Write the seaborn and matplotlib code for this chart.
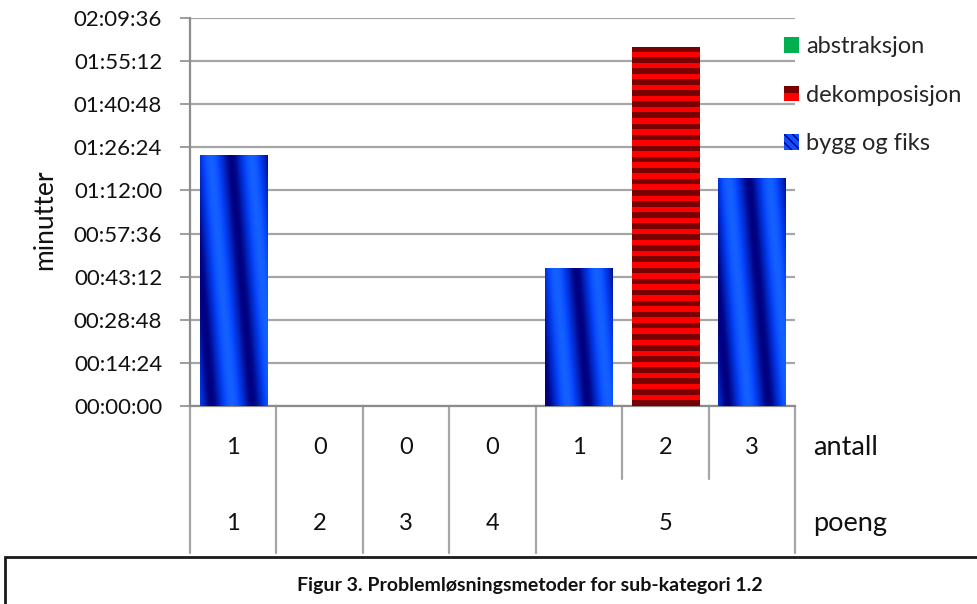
import numpy as np
import pandas as pd
import matplotlib
matplotlib.use("Agg")
import matplotlib.pyplot as plt
import matplotlib.transforms as mtransforms
import seaborn as sns
from matplotlib.patches import Patch, Rectangle
from matplotlib.legend_handler import HandlerBase
from matplotlib.colors import LinearSegmentedColormap, ListedColormap
from matplotlib.ticker import MultipleLocator, FuncFormatter

# ----------------------------
# Data
# ----------------------------
poeng = ["1", "2", "3", "4", "5", "5", "5"]
antall = ["1", "0", "0", "0", "1", "2", "3"]
metode = ["bygg og fiks", "", "", "", "bygg og fiks", "dekomposisjon", "bygg og fiks"]
tid = ["01:24:00", "00:00:00", "00:00:00", "00:00:00", "00:46:00", "02:00:00", "01:16:00"]
serier = ["abstraksjon", "dekomposisjon", "bygg og fiks"]
farger = {"abstraksjon": "#00b050", "dekomposisjon": "#ff0000", "bygg og fiks": "#0040ff"}
tittel = "Figur 3. Problemløsningsmetoder for sub-kategori 1.2"

kol = [f"k{i}" for i in range(len(poeng))]
df = pd.DataFrame({"kol": kol, "metode": metode,
                   "sek": pd.to_timedelta(tid).total_seconds()})
df_bar = df[df["sek"] > 0]

sns.set_theme(style="white")
plt.rcParams["font.family"] = ["Lato", "DejaVu Sans"]
FS = 16
FS2 = 17
GRID = "#a6a6a6"
AXC = "#8c8c8c"
TXT = "#111111"

fig = plt.figure(figsize=(9.77, 6.04), dpi=100)
ax = fig.add_axes([190 / 977, 198 / 604, 605 / 977, 388 / 604])

sns.barplot(data=df_bar, x="kol", y="sek", hue="metode", order=kol,
            hue_order=serier, palette=farger, dodge=False, width=0.78,
            saturation=1, legend=False, ax=ax, zorder=2)

ax.set_xlim(-0.5, len(kol) - 0.5)
ax.set_ylim(0, 7776)

# gradient / stripe fills clipped to each bar (bars come in df_bar order)
blue_cmap = LinearSegmentedColormap.from_list(
    "blaa", ["#000080", "#0020b8", "#0034e0", "#0848ff", "#1460ff"])
red_cmap = ListedColormap(["#ff0000", "#780000"])
bars = [p for p in ax.patches if p.get_height() > 0]
bars.sort(key=lambda p: p.get_x())
for p, navn in zip(bars, df_bar["metode"]):
    h = p.get_height()
    x0, w = p.get_x(), p.get_width()
    px0, py0 = ax.transData.transform((x0, 0))
    px1, py1 = ax.transData.transform((x0 + w, h))
    W, H = int(round(px1 - px0)), int(round(py1 - py0))
    if navn == "bygg og fiks":
        jj, ii = np.meshgrid(np.arange(W), np.arange(H))
        fase = (jj - 0.15 * W - 0.085 * ii) / (0.6 * W)
        img = 0.5 + 0.5 * np.cos(2 * np.pi * fase)
        cmap, interp = blue_cmap, "bilinear"
    else:
        n = max(int(round(H / 5.5)), 1)
        img = ((np.arange(n) % 2) == 0).astype(float)[:, None] * np.ones((1, 4))
        cmap, interp = red_cmap, "nearest"
    im = ax.imshow(img, extent=(x0, x0 + w, 0, h), aspect="auto", origin="upper",
                   cmap=cmap, vmin=0, vmax=1, interpolation=interp, zorder=3)
    im.set_clip_path(p)
    p.set_facecolor("none")
    p.set_linewidth(0)

ax.set_xlim(-0.5, len(kol) - 0.5)
ax.set_ylim(0, 7776)

# y axis as hh:mm:ss
def hms(v, pos):
    v = int(round(v))
    return f"{v // 3600:02d}:{(v % 3600) // 60:02d}:{v % 60:02d}"

ax.yaxis.set_major_locator(MultipleLocator(864))
ax.yaxis.set_major_formatter(FuncFormatter(hms))
ax.tick_params(axis="y", labelsize=FS, length=7, width=1.2, color=AXC,
               pad=13, labelcolor=TXT, left=True)
ax.tick_params(axis="x", bottom=False, labelbottom=False)
ax.set_xlabel("")
ax.set_ylabel("minutter", fontsize=19, color=TXT)
ax.yaxis.set_label_coords(-0.22, 0.48)
ax.grid(axis="y", color=GRID, lw=1.6, zorder=0)
ax.set_axisbelow(True)
for s in ["top", "right"]:
    ax.spines[s].set_visible(False)
for s in ["left", "bottom"]:
    ax.spines[s].set_color(AXC)
    ax.spines[s].set_linewidth(1.6)

# category table below the axis
trans = mtransforms.blended_transform_factory(ax.transData, ax.transAxes)
y_ant, y_poe, y_mid, y_end = -0.108, -0.302, -0.188, -0.379
for i, a in enumerate(antall):
    ax.text(i, y_ant, a, transform=trans, ha="center", va="center",
            fontsize=FS2, color=TXT)
start = 0
for i in range(1, len(poeng) + 1):
    if i == len(poeng) or poeng[i] != poeng[start]:
        ax.text((start + i - 1) / 2, y_poe, poeng[start], transform=trans,
                ha="center", va="center", fontsize=FS2, color=TXT)
        start = i
for b in range(len(poeng) + 1):
    full = b in (0, len(poeng)) or poeng[b - 1] != poeng[b]
    ax.plot([b - 0.5, b - 0.5], [0, y_end if full else y_mid], transform=trans,
            color=GRID, lw=1.6, clip_on=False, zorder=1)
ax.text(1.03, y_ant, "antall", transform=ax.transAxes, ha="left", va="center",
        fontsize=19.5, color=TXT)
ax.text(1.03, y_poe, "poeng", transform=ax.transAxes, ha="left", va="center",
        fontsize=19.5, color=TXT)


# legend with custom swatches
class Tofarget(HandlerBase):
    def create_artists(self, legend, orig, xd, yd, width, height, fontsize, trans):
        topp = Rectangle((-xd, -yd + height / 2), width, height / 2,
                         facecolor="#780000", lw=0, transform=trans)
        bunn = Rectangle((-xd, -yd), width, height / 2,
                         facecolor="#ff0000", lw=0, transform=trans)
        return [topp, bunn]


class Diagonal(HandlerBase):
    def create_artists(self, legend, orig, xd, yd, width, height, fontsize, trans):
        base = Rectangle((-xd, -yd), width, height, facecolor="#1050ff",
                         lw=0, transform=trans)
        strek = Rectangle((-xd, -yd), width, height, facecolor="none",
                          edgecolor="#000080", hatch="\\\\\\\\", lw=0, transform=trans)
        return [base, strek]


h_abs = Patch(facecolor=farger["abstraksjon"], edgecolor="none")
h_dek = Patch()
h_byg = Patch()
fig.legend([h_abs, h_dek, h_byg], serier,
           handler_map={h_dek: Tofarget(), h_byg: Diagonal()},
           loc="upper left", bbox_to_anchor=(784 / 977, 1 - 36 / 604),
           frameon=False, fontsize=FS2, handlelength=0.64, handleheight=0.64,
           handletextpad=0.3, labelspacing=1.17, borderpad=0, borderaxespad=0)

# caption box
fig.add_artist(Rectangle((5 / 977, -0.2), 1.2, 0.2 + 47 / 604,
                         transform=fig.transFigure, fill=False,
                         edgecolor="#1a1a1a", lw=2, clip_on=False))
fig.text(530 / 977, 1 - 585 / 604, tittel, ha="center", va="center",
         fontsize=14, fontweight="bold", color=TXT)

fig.savefig("out.png", dpi=100)
